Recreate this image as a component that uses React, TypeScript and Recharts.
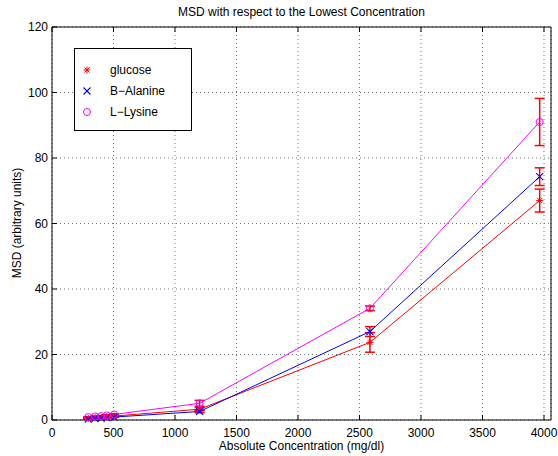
import { LineChart, Line, XAxis, YAxis, CartesianGrid, ErrorBar, Legend } from "recharts";

const concentration = [295, 350, 400, 445, 505, 1200, 2585, 3965];
const glucose = [0.5, 0.7, 0.8, 1.0, 1.2, 3.3, 23.7, 67];
const glucoseErr = [0.1, 0.1, 0.1, 0.1, 0.2, 0.5, 3, 3.5];
const alanine = [0.3, 0.5, 0.6, 0.7, 0.9, 2.6, 27, 74.3];
const alanineErr = [0.1, 0.1, 0.1, 0.1, 0.1, 0.4, 1.5, 2.7];
const lysine = [0.9, 1.1, 1.2, 1.4, 1.7, 5.1, 34.1, 91];
const lysineErr = [0.1, 0.1, 0.1, 0.2, 0.2, 0.9, 0.7, 7.2];

const xTicks = [0, 500, 1000, 1500, 2000, 2500, 3000, 3500, 4000];
const yTicks = [0, 20, 40, 60, 80, 100, 120];

const chartData = concentration.map((x, i) => ({
  x,
  glu: glucose[i],
  gluErr: glucoseErr[i],
  ala: alanine[i],
  alaErr: alanineErr[i],
  lys: lysine[i],
  lysErr: lysineErr[i],
}));

const FONT = '"Liberation Sans", Arial, Helvetica, sans-serif';
const RED = "#ff0000";
const BLUE = "#0000ff";
const MAGENTA = "#ff00ff";

const Star = ({ cx, cy, color = RED }: any) => {
  const r = 3.5;
  const d = r * 0.72;
  return (
    <g stroke={color} strokeWidth={1}>
      <line x1={cx - r} y1={cy} x2={cx + r} y2={cy} />
      <line x1={cx} y1={cy - r} x2={cx} y2={cy + r} />
      <line x1={cx - d} y1={cy - d} x2={cx + d} y2={cy + d} />
      <line x1={cx - d} y1={cy + d} x2={cx + d} y2={cy - d} />
    </g>
  );
};

const Cross = ({ cx, cy, color = BLUE }: any) => {
  const r = 3.5;
  return (
    <g stroke={color} strokeWidth={1.1}>
      <line x1={cx - r} y1={cy - r} x2={cx + r} y2={cy + r} />
      <line x1={cx - r} y1={cy + r} x2={cx + r} y2={cy - r} />
    </g>
  );
};

const Ring = ({ cx, cy, color = MAGENTA }: any) => (
  <circle cx={cx} cy={cy} r={3.5} fill="none" stroke={color} strokeWidth={1} />
);

const LegendBox = () => {
  const rows = [
    { name: "glucose", Mark: Star, color: RED },
    { name: "B\u2212Alanine", Mark: Cross, color: BLUE },
    { name: "L\u2212Lysine", Mark: Ring, color: MAGENTA },
  ];
  return (
    <div
      style={{
        width: 118,
        height: 83,
        boxSizing: "border-box",
        border: "1px solid #000",
        background: "#fff",
        paddingTop: 11,
        fontFamily: FONT,
        fontSize: 12,
      }}
    >
      {rows.map(({ name, Mark, color }) => (
        <div key={name} style={{ display: "flex", alignItems: "center", height: 20.7 }}>
          <svg width={24} height={12}>
            <Mark cx={12} cy={6} color={color} />
          </svg>
          <span style={{ marginLeft: 11 }}>{name}</span>
        </div>
      ))}
    </div>
  );
};

const axisStroke = { stroke: "#000" };
const tickFont = { fill: "#000", fontSize: 12, fontFamily: FONT };

export default function App() {
  return (
    <div
      style={{
        position: "absolute",
        left: 0,
        top: 0,
        width: 558,
        height: 456,
        background: "#fff",
        fontFamily: FONT,
        color: "#000",
      }}
    >
      <LineChart
        width={558}
        height={456}
        data={chartData}
        margin={{ top: 26, right: 6, bottom: 16, left: 0 }}
      >
        <CartesianGrid stroke="#777" strokeDasharray="1 3" />
        <XAxis
          type="number"
          dataKey="x"
          domain={[0, 4057]}
          ticks={xTicks}
          interval={0}
          allowDataOverflow
          height={20}
          tickSize={-5}
          tickMargin={13}
          axisLine={axisStroke}
          tickLine={axisStroke}
          tick={tickFont}
        />
        <XAxis
          xAxisId="top"
          orientation="top"
          type="number"
          dataKey="x"
          domain={[0, 4057]}
          ticks={xTicks}
          interval={0}
          allowDataOverflow
          height={1}
          tickSize={-5}
          axisLine={axisStroke}
          tickLine={axisStroke}
          tick={() => <g />}
        />
        <YAxis
          type="number"
          domain={[0, 120]}
          ticks={yTicks}
          interval={0}
          width={52}
          tickSize={-5}
          tickMargin={9}
          axisLine={axisStroke}
          tickLine={axisStroke}
          tick={tickFont}
        />
        <YAxis
          yAxisId="right"
          orientation="right"
          type="number"
          domain={[0, 120]}
          ticks={yTicks}
          interval={0}
          width={1}
          tickSize={-5}
          axisLine={axisStroke}
          tickLine={axisStroke}
          tick={() => <g />}
        />
        <Legend
          layout="horizontal"
          verticalAlign="middle"
          align="center"
          wrapperStyle={{ left: 74, top: 48, width: 118, height: 83 }}
          content={() => <LegendBox />}
        />
        <Line
          dataKey="glu"
          stroke={RED}
          strokeWidth={1}
          isAnimationActive={false}
          dot={(p: any) => <Star key={`g${p.index}`} cx={p.cx} cy={p.cy} />}
        >
          <ErrorBar dataKey="gluErr" direction="y" width={5} stroke={RED} strokeWidth={1.5} />
        </Line>
        <Line
          dataKey="ala"
          stroke={BLUE}
          strokeWidth={1}
          isAnimationActive={false}
          dot={(p: any) => <Cross key={`a${p.index}`} cx={p.cx} cy={p.cy} />}
        >
          <ErrorBar dataKey="alaErr" direction="y" width={5} stroke={RED} strokeWidth={1.5} />
        </Line>
        <Line
          dataKey="lys"
          stroke={MAGENTA}
          strokeWidth={1}
          isAnimationActive={false}
          dot={(p: any) => <Ring key={`l${p.index}`} cx={p.cx} cy={p.cy} />}
        >
          <ErrorBar dataKey="lysErr" direction="y" width={5} stroke={RED} strokeWidth={1.5} />
        </Line>
      </LineChart>
      <div
        style={{
          position: "absolute",
          left: 52,
          width: 499,
          top: 4,
          lineHeight: "16px",
          fontSize: 12,
          textAlign: "center",
        }}
      >
        MSD with respect to the Lowest Concentration
      </div>
      <div
        style={{
          position: "absolute",
          left: 52,
          width: 499,
          top: 438,
          lineHeight: "16px",
          fontSize: 12,
          textAlign: "center",
        }}
      >
        Absolute Concentration (mg/dl)
      </div>
      <div
        style={{
          position: "absolute",
          left: 17,
          top: 223,
          fontSize: 12,
          lineHeight: "16px",
          whiteSpace: "nowrap",
          transform: "translate(-50%, -50%) rotate(-90deg)",
        }}
      >
        MSD (arbitrary units)
      </div>
    </div>
  );
}
